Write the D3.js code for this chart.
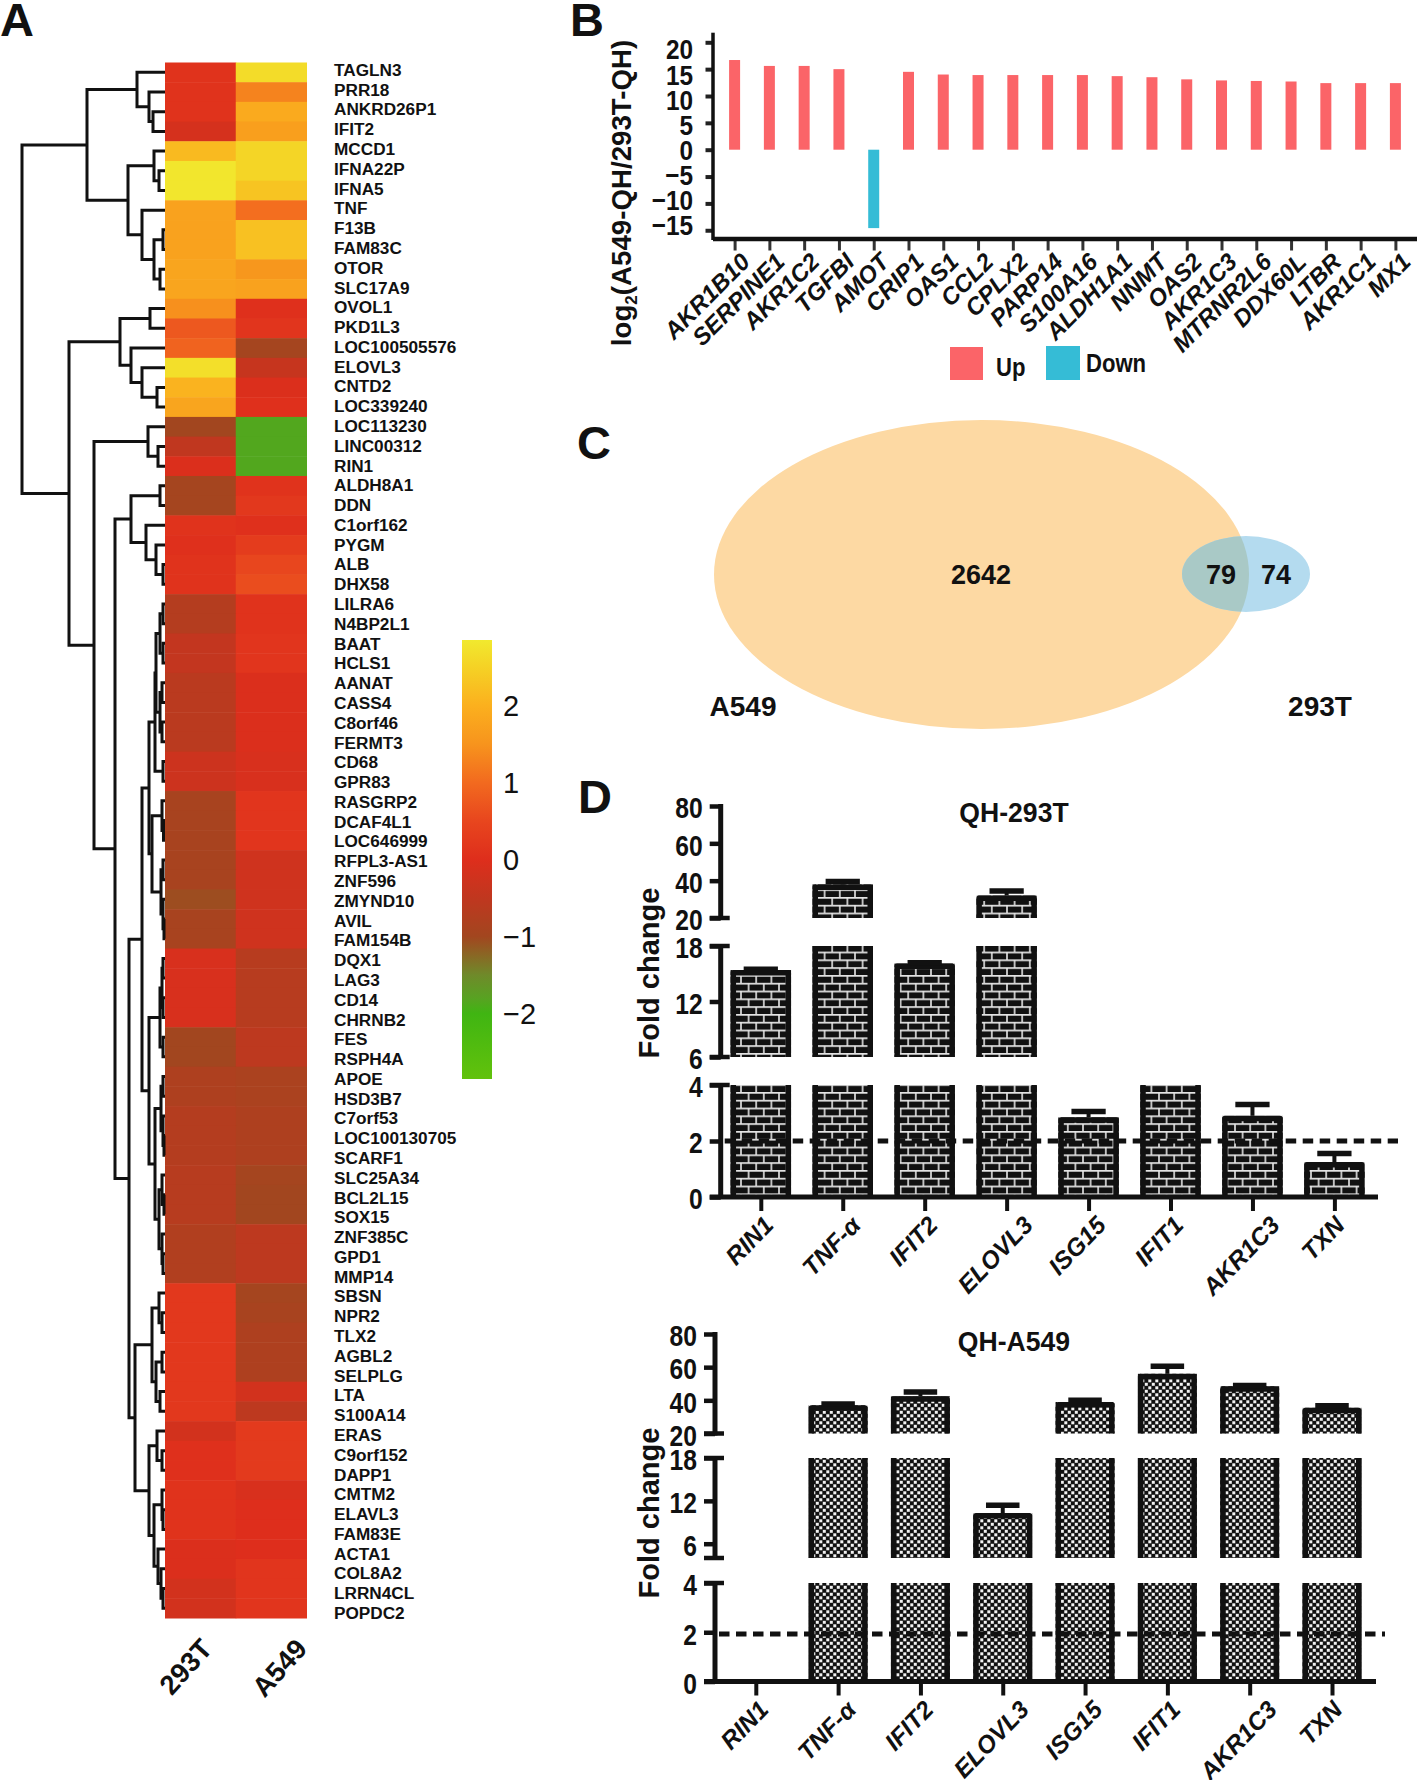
<!DOCTYPE html>
<html>
<head>
<meta charset="utf-8">
<script src="https://cdn.jsdelivr.net/npm/d3@7"></script>
<style>
  html, body { margin: 0; padding: 0; background: #fff; }
  svg { display: block; }
  text { font-family: "Liberation Sans", Arial, sans-serif; fill: #111; }
</style>
</head>
<body>
<svg id="fig" width="1417" height="1780"></svg>
<script>
// --- PANEL A DATA ---
var heatColumns = ["293T", "A549"];
var heatGenes = ["TAGLN3","PRR18","ANKRD26P1","IFIT2","MCCD1","IFNA22P","IFNA5","TNF","F13B","FAM83C","OTOR","SLC17A9",
  "OVOL1","PKD1L3","LOC100505576","ELOVL3","CNTD2","LOC339240","LOC113230","LINC00312","RIN1","ALDH8A1","DDN","C1orf162",
  "PYGM","ALB","DHX58","LILRA6","N4BP2L1","BAAT","HCLS1","AANAT","CASS4","C8orf46","FERMT3","CD68","GPR83","RASGRP2",
  "DCAF4L1","LOC646999","RFPL3-AS1","ZNF596","ZMYND10","AVIL","FAM154B","DQX1","LAG3","CD14","CHRNB2","FES","RSPH4A",
  "APOE","HSD3B7","C7orf53","LOC100130705","SCARF1","SLC25A34","BCL2L15","SOX15","ZNF385C","GPD1","MMP14","SBSN","NPR2",
  "TLX2","AGBL2","SELPLG","LTA","S100A14","ERAS","C9orf152","DAPP1","CMTM2","ELAVL3","FAM83E","ACTA1","COL8A2","LRRN4CL","POPDC2"];
var heat293T = [0.1,0.1,0.1,-0.15,2.15,2.8,2.8,1.75,1.75,1.75,1.8,1.8,
  1.45,0.75,0.9,2.7,2.05,1.8,-1,-0.5,-0.05,-0.95,-0.95,0.1,
  0.05,0.1,0.1,-0.7,-0.7,-0.45,-0.45,-0.6,-0.6,-0.6,-0.6,-0.3,-0.3,-0.9,
  -0.9,-0.9,-0.9,-0.9,-1.05,-0.9,-0.9,-0.1,-0.1,-0.1,-0.1,-1,-1,
  -0.8,-0.8,-0.7,-0.7,-0.7,-0.65,-0.65,-0.65,-0.75,-0.75,-0.75,0.2,0.2,
  0.2,0.2,0.2,0.2,0.2,-0.2,0.05,0.05,0.1,0.1,0.1,-0.05,-0.05,-0.2,-0.2];
var heatA549 = [2.65,1.3,1.9,1.7,2.55,2.55,2.3,1.05,2.25,2.25,1.55,1.75,
  0.05,0.15,-0.95,-0.4,-0.05,0.05,-1.85,-1.85,-1.85,0.1,0.2,0.05,
  0.3,0.5,0.6,0.1,0.1,0.15,0.15,-0.05,-0.05,-0.05,-0.05,-0.1,-0.1,0.15,
  0.15,0.15,-0.25,-0.25,-0.25,-0.25,-0.25,-0.65,-0.65,-0.65,-0.65,-0.55,-0.55,
  -0.85,-0.85,-0.8,-0.8,-0.8,-0.95,-1,-1,-0.55,-0.55,-0.55,-0.95,-0.9,
  -0.8,-0.8,-0.8,-0.2,-0.55,0.25,0.25,0.25,-0.1,0,0,0,0.15,0.15,0.15];
var colorStops = [-2.85,-2,-1.8,-1.5,-1,-0.5,0,0.5,1,1.5,2,2.5,2.85];
var colorValues = ["#62c20c","#40b512","#58a222","#6f8a2a","#a2461f","#c0371f","#de2e1c","#e8461e","#f26a1f","#f7941d","#fbb01e","#f5d225","#f1e92e"];
var colorTicks = [2,1,0,-1,-2];

// dendrogram: [merge height, left, right], 0 = next leaf in row order
var dendroTree = [143,
  [78,
    [28, 0, [16, 0, [12, 0, 0]]],
    [37, [11, 0, [6, 0, 0]], [23, 0, [11, [2, 0, 0], [5, 0, 0]]]]],
  [96,
    [45, [15, 0, 0], [34, 0, [23, 0, [8, 0, 0]]]],
    [71,
      [17, 0, [7, 0, 0]],
      [50,
        [34, [5, 0, 0], [19, 0, [9, 0, [2, 0, 0]]]],
        [36,
          [23,
            [16,
              [10, [9, [5, [2, 0, 0], [2, 0, 0]], [5, [3, 0, 0], [3, 0, 0]]], [2, 0, 0]],
              [13, [3, 0, [1.5, 0, 0]], [4, [2, 0, 0], [2, 0, [1, 0, 0]]]]],
            [16,
              [5, [3, [2, 0, 0], [2, 0, 0]], [2, 0, 0]],
              [10, [4, [2, 0, 0], [2, 0, [1, 0, 0]]], [6, [3, 0, [1, 0, 0]], [3, 0, [2, 0, 0]]]]]],
          [30,
            [13, [6, 0, [3, 0, 0]], [9, [3, 0, 0], [5, 0, 0]]],
            [16, [8, 0, [3, 0, 0]], [11, [3, 0, [2, 0, 0]], [7, 0, [4, 0, [2, 0, 0]]]]]]]]]]];

// --- PANEL B DATA ---
var diffGenes = ["AKR1B10","SERPINE1","AKR1C2","TGFBI","AMOT","CRIP1","OAS1","CCL2","CPLX2","PARP14","S100A16","ALDH1A1","NNMT","OAS2","AKR1C3","MTRNR2L6","DDX60L","LTBR","AKR1C1","MX1"];
var diffValues = [16.7,15.6,15.6,15,-14.6,14.5,14,13.9,13.9,13.9,13.9,13.7,13.5,13.1,12.9,12.8,12.7,12.4,12.4,12.4];
var diffTicks = [20,15,10,5,0,-5,-10,-15];

// --- PANEL C DATA ---
var vennCounts = [2642, 79, 74];
var vennNames = ["A549", "293T"];

// --- PANEL D DATA ---
var foldGenes = ["RIN1","TNF-\u03b1","IFIT2","ELOVL3","ISG15","IFIT1","AKR1C3","TXN"];
var fold293T = [15.4,38,16.1,32,2.85,4,2.9,1.25];
var err293T = [0.1,1.5,0.1,2.5,0.2,0,0.4,0.3];
var foldA549 = [0,37,42.5,10.3,39,56,48.5,35.5];
var errA549 = [0,0.8,2.5,1.1,1,4.5,0.4,1.2];

var svg = d3.select("#fig");
var defs = svg.append("defs");
var INK = "#111";

function hline(g, x1, x2, y, w, color) {
  return g.append("line").attr("x1", x1).attr("x2", x2).attr("y1", y).attr("y2", y)
    .attr("stroke", color || INK).attr("stroke-width", w);
}

// condensed look of the original: squeeze the tick text horizontally
function squeeze(sel, sx, dy) {
  sel.each(function() {
    var t = d3.select(this);
    var x = +t.attr("x") || 0, y = +t.attr("y") || 0;
    t.attr("transform", "translate(" + x + "," + (y + (dy || 0)) + ") scale(" + sx + ",1)").attr("x", 0).attr("y", 0);
  });
}

function panelLetter(s, x, y) {
  svg.append("text").attr("x", x).attr("y", y).attr("font-size", 47).attr("font-weight", 700).text(s);
}

panelLetter("A", 0, 36);
panelLetter("B", 570, 36);
panelLetter("C", 577, 459);
panelLetter("D", 578, 813);

// --- A: HEATMAP ---
var heatColor = d3.scaleLinear().domain(colorStops).range(colorValues).clamp(true);
var rowY = d3.scaleBand().domain(heatGenes).range([62.5, 1618]);
var labelY = d3.scalePoint().domain(heatGenes).range([70.4, 1613.5]);
var colX = d3.scaleBand().domain(heatColumns).range([165, 306.5]);
var gA = svg.append("g");

heatGenes.forEach(function(gene, i) {
  [heat293T[i], heatA549[i]].forEach(function(v, j) {
    gA.append("rect")
      .attr("x", colX(heatColumns[j])).attr("y", rowY(gene))
      .attr("width", colX.bandwidth() + 0.5).attr("height", rowY.bandwidth() + 0.5)
      .attr("fill", heatColor(v));
  });
  gA.append("text").attr("x", 334).attr("y", labelY(gene) + 5.5)
    .attr("font-size", 17.2).attr("font-weight", 700).text(gene);
});

heatColumns.forEach(function(c, j) {
  var x = colX(c) + colX.bandwidth() / 2 + (j === 0 ? -2 : 22);
  gA.append("text").attr("transform", "translate(" + x + ",1636) rotate(-48)")
    .attr("text-anchor", "end").attr("dy", "0.75em").attr("font-size", 27.5).attr("font-weight", 700).text(c);
});

// dendrogram
var dendroX = d3.scaleLinear().domain([0, 143]).range([165, 22]);
var dendroG = gA.append("g").attr("fill", "none").attr("stroke", INK).attr("stroke-width", 3).attr("stroke-linejoin", "miter");
var leafIndex = 0;
function drawNode(node) {
  if (node === 0) {
    var gene = heatGenes[leafIndex++];
    return { x: dendroX(0), y: rowY(gene) + rowY.bandwidth() / 2 };
  }
  var a = drawNode(node[1]), b = drawNode(node[2]);
  var x = dendroX(node[0]);
  dendroG.append("path").attr("d", "M" + a.x + "," + a.y + "H" + x + "V" + b.y + "H" + b.x);
  return { x: x, y: (a.y + b.y) / 2 };
}
drawNode(dendroTree);

// colour bar
var barScale = d3.scaleLinear().domain([2.856, -2.84]).range([640, 1079]);
var grad = defs.append("linearGradient").attr("id", "heatGrad").attr("x1", 0).attr("x2", 0).attr("y1", 1).attr("y2", 0);
colorStops.forEach(function(s, i) {
  grad.append("stop").attr("offset", (s - colorStops[0]) / (colorStops[colorStops.length - 1] - colorStops[0]))
    .attr("stop-color", colorValues[i]);
});
gA.append("rect").attr("x", 462).attr("y", 640).attr("width", 30).attr("height", 439).attr("fill", "url(#heatGrad)");
var barAxis = d3.axisRight(barScale).tickValues(colorTicks).tickSize(0).tickPadding(11)
  .tickFormat(function(d) { return d3.format("")(d); });
var barG = gA.append("g").attr("transform", "translate(492,0)").call(barAxis);
barG.select(".domain").remove();
barG.selectAll("text").attr("font-size", 29).style("font-family", "Liberation Sans").attr("fill", INK);

// --- B: DIFFERENTIAL BARS ---
var diffX = d3.scalePoint().domain(diffGenes).range([734.6, 1395.4]);
var diffY = d3.scaleLinear().domain([20, 0]).range([42.3, 149.7]);
// the tick labels in the original sit on a slightly tighter spacing than the ticks
var diffLabelY = d3.scaleLinear().domain([20, 0]).range([50, 150.3]);
var gB = svg.append("g");

gB.selectAll("rect.diff").data(diffValues).enter().append("rect")
  .attr("class", "diff")
  .attr("x", function(d, i) { return diffX(diffGenes[i]) - 5.5; })
  .attr("width", 11)
  .attr("y", function(d) { return d > 0 ? diffY(d) : diffY(0); })
  .attr("height", function(d) { return Math.abs(diffY(d) - diffY(0)); })
  .attr("fill", function(d) { return d > 0 ? "#fb6468" : "#35bcd6"; });

var yTicksB = gB.append("g").attr("transform", "translate(713,0)")
  .call(d3.axisLeft(diffY).tickValues(diffTicks).tickSize(7.5).tickFormat(""));
yTicksB.select(".domain").remove();
yTicksB.selectAll("line").attr("stroke", "#222").attr("stroke-width", 4);

var yLabelsB = gB.append("g").attr("transform", "translate(713,0)")
  .call(d3.axisLeft(diffLabelY).tickValues(diffTicks).tickSize(0).tickPadding(20));
yLabelsB.select(".domain").remove();
yLabelsB.selectAll("text").attr("font-size", 28).attr("font-weight", 700).attr("fill", INK);
squeeze(yLabelsB.selectAll("text"), 0.87);
gB.append("line").attr("x1", 713).attr("x2", 713).attr("y1", 32.7).attr("y2", 240).attr("stroke", INK).attr("stroke-width", 3.5);

var diffAxisX = d3.axisBottom(diffX).tickSize(11.5).tickPadding(3);
var xB = gB.append("g").attr("transform", "translate(0,239)").call(diffAxisX);
xB.select(".domain").remove();
xB.selectAll("line").attr("stroke", "#333").attr("stroke-width", 3);
xB.selectAll("text").attr("font-size", 24).attr("font-weight", 700).attr("font-style", "italic").attr("fill", INK)
  .attr("text-anchor", "end").attr("dy", "0.3em")
  .attr("transform", "translate(7,15) rotate(-45)").attr("x", 0).attr("y", 6);
hline(gB, 713, 1417, 239, 4.5);

gB.append("text").attr("transform", "translate(631,193) rotate(-90)").attr("text-anchor", "middle")
  .attr("font-size", 27.7).attr("font-weight", 700)
  .html('log<tspan font-size="17" dy="6">2</tspan><tspan dy="-6">(A549-QH/293T-QH)</tspan>');

gB.append("rect").attr("x", 950).attr("y", 347).attr("width", 33).attr("height", 33).attr("fill", "#fb6468");
gB.append("rect").attr("x", 1046).attr("y", 346).attr("width", 34).attr("height", 34).attr("fill", "#35bcd6");
[["Up", 996, 376], ["Down", 1086, 372]].forEach(function(d) {
  gB.append("text").attr("transform", "translate(" + d[1] + "," + d[2] + ") scale(0.85,1)")
    .attr("font-size", 26).attr("font-weight", 700).text(d[0]);
});

// --- C: VENN ---
var gC = svg.append("g");
defs.append("clipPath").attr("id", "bigClip").append("ellipse").attr("cx", 981.5).attr("cy", 574.5).attr("rx", 267.5).attr("ry", 154.5);
gC.append("ellipse").attr("cx", 981.5).attr("cy", 574.5).attr("rx", 267.5).attr("ry", 154.5).attr("fill", "#fdd9a3");
gC.append("ellipse").attr("cx", 1246).attr("cy", 574).attr("rx", 64).attr("ry", 38).attr("fill", "#b4dbef");
gC.append("ellipse").attr("cx", 1246).attr("cy", 574).attr("rx", 64).attr("ry", 38).attr("fill", "#a9c9c6").attr("clip-path", "url(#bigClip)");
[[981, 584], [1221, 584], [1276, 584]].forEach(function(p, i) {
  gC.append("text").attr("x", p[0]).attr("y", p[1]).attr("text-anchor", "middle")
    .attr("font-size", 27).attr("font-weight", 700).text(vennCounts[i]);
});
gC.append("text").attr("x", 743).attr("y", 716).attr("text-anchor", "middle").attr("font-size", 28).attr("font-weight", 700).text(vennNames[0]);
gC.append("text").attr("x", 1320).attr("y", 716).attr("text-anchor", "middle").attr("font-size", 28).attr("font-weight", 700).text(vennNames[1]);

// --- D: FOLD CHANGE WITH BROKEN AXES ---
var brick = defs.append("pattern").attr("id", "brick").attr("patternUnits", "userSpaceOnUse").attr("width", 15.2).attr("height", 15.6);
brick.append("rect").attr("width", 15.2).attr("height", 15.6).attr("fill", "#111");
brick.append("path").attr("d", "M0,0.8H15.2M0,8.6H15.2M3.8,0.8V8.6M11.4,8.6V15.6").attr("stroke", "#e4e4e4").attr("stroke-width", 1.6);

var checker = defs.append("pattern").attr("id", "checker").attr("patternUnits", "userSpaceOnUse").attr("width", 7).attr("height", 7);
checker.append("rect").attr("width", 7).attr("height", 7).attr("fill", "#111");
checker.append("rect").attr("x", 0.3).attr("y", 0.3).attr("width", 3).attr("height", 3).attr("fill", "#f2f2f2");
checker.append("rect").attr("x", 3.8).attr("y", 3.8).attr("width", 3).attr("height", 3).attr("fill", "#f2f2f2");

function drawFoldPanel(cfg) {
  var g = svg.append("g");
  var x = d3.scalePoint().domain(foldGenes).range(cfg.xRange);
  var half = cfg.barWidth / 2, sw = 5.5;

  cfg.segments.forEach(function(seg) {
    var y = d3.scaleLinear().domain(seg.domain).range(seg.range);
    seg.scale = y;
    var lo = seg.domain[0], hi = seg.domain[1];

    foldGenes.forEach(function(gene, i) {
      var v = cfg.values[i], e = cfg.errors[i];
      if (v <= lo) return;
      var closed = v < hi;
      var top = y(Math.min(v, hi));
      var x0 = x(gene) - half, x1 = x(gene) + half;
      g.append("rect").attr("x", x0).attr("width", cfg.barWidth).attr("y", top).attr("height", y(lo) - top)
        .attr("fill", "url(#" + cfg.pattern + ")");
      var xa = x0 + sw / 2, xb = x1 - sw / 2;
      var d = closed
        ? "M" + xa + "," + y(lo) + "V" + (top + sw / 2) + "H" + xb + "V" + y(lo)
        : "M" + xa + "," + y(lo) + "V" + top + "M" + xb + "," + y(lo) + "V" + top;
      g.append("path").attr("d", d).attr("fill", "none").attr("stroke", INK).attr("stroke-width", sw).attr("stroke-linejoin", "round");
      if (closed && e > 0) {
        g.append("line").attr("x1", x(gene)).attr("x2", x(gene)).attr("y1", top).attr("y2", y(v + e))
          .attr("stroke", INK).attr("stroke-width", 4);
        hline(g, x(gene) - half / 2 - 2, x(gene) + half / 2 + 2, y(v + e), 5.5);
      }
    });

    // axis of this segment
    var axis = d3.axisLeft(y).tickValues(seg.ticks).tickSize(11).tickPadding(7).tickFormat(d3.format("d"));
    var ax = g.append("g").attr("transform", "translate(" + cfg.axisX + ",0)").call(axis);
    ax.select(".domain").remove();
    ax.selectAll("line").attr("stroke", INK).attr("stroke-width", 4.5);
    ax.selectAll("text").attr("font-size", 29).attr("font-weight", 700).attr("fill", INK);
    squeeze(ax.selectAll("text"), 0.85, 2.5);
    g.append("line").attr("x1", cfg.axisX).attr("x2", cfg.axisX).attr("y1", y(hi) - 2).attr("y2", y(lo) + 2)
      .attr("stroke", INK).attr("stroke-width", 5);
    seg.caps.forEach(function(c) { hline(g, cfg.axisX - 11, cfg.axisX + 9, y(c), 4.5); });
  });

  // baseline and gene ticks
  var low = cfg.segments[cfg.segments.length - 1].scale;
  var baseY = low(0);
  var xAxis = d3.axisBottom(x).tickSize(14).tickPadding(3);
  var xg = g.append("g").attr("transform", "translate(0," + baseY + ")").call(xAxis);
  xg.select(".domain").remove();
  xg.selectAll("line").attr("stroke", INK).attr("stroke-width", 4);
  // labels hang from a common top line, centred a little left of the tick
  xg.selectAll("text").attr("font-size", 24.5).attr("font-weight", 700).attr("font-style", "italic").attr("fill", INK)
    .attr("text-anchor", "middle").attr("dy", "0.35em").attr("x", 0).attr("y", 0)
    .attr("transform", function() {
      var L = this.getComputedTextLength();
      return "translate(-12," + (17 + (L + 18) * 0.72 / 2) + ") rotate(-46)";
    });
  hline(g, cfg.axisX - 11, cfg.xEnd, baseY, 5);

  hline(g, cfg.axisX + 4, cfg.dashEnd, low(cfg.threshold), 5).attr("stroke-dasharray", "10.5,6.5");

  g.append("text").attr("transform", "translate(1014," + cfg.titleY + ") scale(0.95,1)")
    .attr("text-anchor", "middle").attr("font-size", 28).attr("font-weight", 700).text(cfg.title);
  g.append("text").attr("transform", "translate(659," + cfg.labelY + ") rotate(-90)")
    .attr("text-anchor", "middle").attr("font-size", 29).attr("font-weight", 700).text("Fold change");
}

drawFoldPanel({
  title: "QH-293T", titleY: 822, labelY: 973, threshold: 2,
  values: fold293T, errors: err293T, pattern: "brick",
  xRange: [760.8, 1334.4], barWidth: 60.5, axisX: 720.7, xEnd: 1378, dashEnd: 1398,
  segments: [
    { domain: [20, 80], range: [918, 806], ticks: [80, 60, 40, 20], caps: [20] },
    { domain: [6, 18], range: [1057, 946], ticks: [18, 12, 6], caps: [18, 6] },
    { domain: [0, 4], range: [1197, 1085], ticks: [4, 2, 0], caps: [4] }
  ]
});

drawFoldPanel({
  title: "QH-A549", titleY: 1351, labelY: 1513, threshold: 1.93,
  values: foldA549, errors: errA549, pattern: "checker",
  xRange: [755.8, 1332], barWidth: 59, axisX: 715, xEnd: 1376, dashEnd: 1385,
  segments: [
    { domain: [20, 80], range: [1433.5, 1334], ticks: [80, 60, 40, 20], caps: [20] },
    { domain: [4, 18], range: [1558, 1458], ticks: [18, 12, 6], caps: [18, 4] },
    { domain: [0, 4], range: [1681.5, 1583], ticks: [4, 2, 0], caps: [4] }
  ]
});
</script>
</body>
</html>
